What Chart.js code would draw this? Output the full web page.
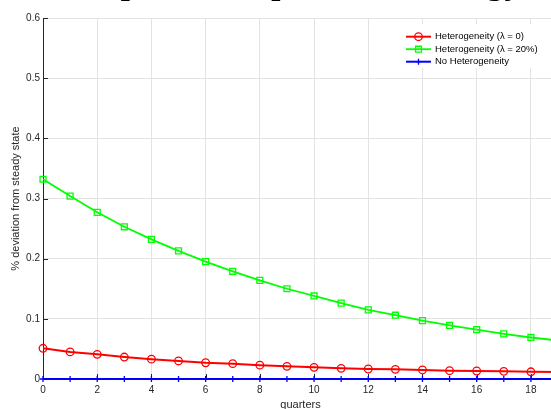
<!DOCTYPE html>
<html>
<head>
<meta charset="utf-8">
<title>Impulse response</title>
<script src="https://cdn.jsdelivr.net/npm/chart.js@4.4.1/dist/chart.umd.min.js"></script>
<style>
  html, body { margin: 0; width: 551px; height: 409px; overflow: hidden; background: #fff; }
  /* the figure is cropped: title above the top edge, right end past the window */
  #wrap { position: absolute; left: 0; top: -45px; width: 601px; height: 465px; }
</style>
</head>
<body>
<div id="wrap"><canvas id="irf"></canvas></div>
<script>
// one value per quarter
const quarters = [0, 1, 2, 3, 4, 5, 6, 7, 8, 9, 10, 11, 12, 13, 14, 15, 16, 17, 18, 19];
const hetZero = [0.051, 0.045, 0.041, 0.0365, 0.033, 0.030, 0.027, 0.0255, 0.023, 0.021,
                 0.0194, 0.0177, 0.0166, 0.016, 0.015, 0.0138, 0.0133, 0.0127, 0.012, 0.0115];
const hetTwenty = [0.332, 0.304, 0.277, 0.253, 0.232, 0.213, 0.195, 0.179, 0.164, 0.150,
                   0.138, 0.126, 0.115, 0.106, 0.097, 0.089, 0.082, 0.075, 0.069, 0.064];
const noHet = [0, 0, 0, 0, 0, 0, 0, 0, 0, 0, 0, 0, 0, 0, 0, 0, 0, 0, 0, 0];
const seriesLabels = ['Heterogeneity (λ = 0)', 'Heterogeneity (λ = 20%)', 'No Heterogeneity'];
const yTicks = [0, 0.1, 0.2, 0.3, 0.4, 0.5, 0.6];

const AXIS = '#262626';
const GRID = '#e3e3e3';
const SANS = '"Liberation Sans", Arial, Helvetica, sans-serif';

const pts = (ys) => quarters.map((q, i) => ({ x: q, y: ys[i] }));

function marker(ctx, style, x, y, r) {
  ctx.beginPath();
  if (style === 'circle') {
    ctx.arc(x, y, r, 0, Math.PI * 2);
  } else if (style === 'rect') {
    const s = r * Math.SQRT1_2;
    ctx.rect(x - s, y - s, 2 * s, 2 * s);
  } else {
    ctx.moveTo(x - r, y); ctx.lineTo(x + r, y);
    ctx.moveTo(x, y - r); ctx.lineTo(x, y + r);
  }
  ctx.stroke();
}

// MATLAB-style ticks pointing into the plot
const innerTicks = {
  id: 'innerTicks',
  beforeDatasetsDraw(chart) {
    const { ctx, chartArea: a, scales: { x, y } } = chart;
    ctx.save();
    ctx.strokeStyle = AXIS;
    ctx.lineWidth = 1;
    ctx.beginPath();
    x.ticks.forEach((t) => {
      const px = Math.round(x.getPixelForValue(t.value)) + 0.5;
      ctx.moveTo(px, a.bottom); ctx.lineTo(px, a.bottom - 5);
    });
    y.ticks.forEach((t) => {
      const py = Math.round(y.getPixelForValue(t.value)) + 0.5;
      ctx.moveTo(a.left, py); ctx.lineTo(a.left + 5, py);
    });
    ctx.stroke();
    ctx.restore();
  },
};

// legend with line + marker samples, white box, no frame
const lineLegend = {
  id: 'lineLegend',
  afterDraw(chart) {
    const { ctx, chartArea: a } = chart;
    const x0 = a.right - 152, x1 = a.right - 127, tx = a.right - 123;
    ctx.save();
    ctx.fillStyle = '#fff';
    ctx.fillRect(a.right - 160, a.top + 6, 150, 44);
    ctx.font = '9.5px ' + SANS;
    ctx.textBaseline = 'middle';
    chart.data.datasets.forEach((ds, i) => {
      const yy = a.top + 18.7 + i * 12.5;
      ctx.strokeStyle = ds.borderColor;
      ctx.lineWidth = ds.borderWidth;
      ctx.beginPath(); ctx.moveTo(x0, yy); ctx.lineTo(x1, yy); ctx.stroke();
      ctx.lineWidth = ds.pointBorderWidth;
      marker(ctx, ds.pointStyle, (x0 + x1) / 2, yy, ds.pointRadius);
      ctx.fillStyle = '#000';
      ctx.fillText(ds.label, tx, yy);
    });
    ctx.restore();
  },
};

const lineSet = (label, ys, color, style, r, w) => ({
  label, data: pts(ys),
  borderColor: color, borderWidth: w,
  pointStyle: style, pointRadius: r, pointHoverRadius: r,
  pointBorderColor: color, pointBackgroundColor: 'rgba(0,0,0,0)', pointBorderWidth: 1.3,
  tension: 0, clip: false,
});

new Chart(document.getElementById('irf'), {
  type: 'line',
  data: {
    datasets: [
      lineSet(seriesLabels[0], hetZero, '#ff0000', 'circle', 3.8, 2),
      lineSet(seriesLabels[1], hetTwenty, '#00ff00', 'rect', 4.2, 1.8),
      lineSet(seriesLabels[2], noHet, '#0000ff', 'cross', 3, 2),
    ],
  },
  options: {
    responsive: true, maintainAspectRatio: false, animation: false,
    devicePixelRatio: 1,
    layout: { padding: 0 },
    plugins: {
      legend: { display: false },
      tooltip: { enabled: false },
      title: {
        display: true,
        text: 'Impulse Response to Energy',
        color: '#000',
        font: { family: '"Liberation Serif", "Times New Roman", serif', size: 39, weight: 'normal' },
        padding: { top: 3, bottom: 13.2 },
      },
    },
    scales: {
      x: {
        type: 'linear', min: 0, max: 19,
        afterBuildTicks: (s) => { s.ticks = s.ticks.filter((t) => t.value % 2 === 0); },
        afterFit: (s) => { s.height = 41; },
        ticks: { stepSize: 2, autoSkip: false, maxRotation: 0, padding: 5, color: AXIS, font: { family: SANS, size: 10 } },
        grid: { color: GRID, drawTicks: false },
        border: { display: true, color: AXIS },
        title: { display: true, text: 'quarters', color: AXIS, font: { family: SANS, size: 11 }, padding: { top: 0, bottom: 8.4 } },
      },
      y: {
        type: 'linear', min: 0, max: 0.6,
        afterBuildTicks: (s) => { s.ticks = yTicks.map((v) => ({ value: v })); },
        afterFit: (s) => { s.width = 43; },
        ticks: { padding: 3, color: AXIS, font: { family: SANS, size: 10 }, callback: (v) => String(+v.toFixed(1)) },
        grid: { color: GRID, drawTicks: false },
        border: { display: true, color: AXIS },
        title: { display: true, text: '% deviation from steady state', color: AXIS, font: { family: SANS, size: 11 }, padding: { top: 9.4, bottom: 0 } },
      },
      // empty right gutter so the title centres over the plot, as in the figure
      gutter: {
        type: 'linear', position: 'right', display: true,
        afterFit: (s) => { s.width = 43; },
        ticks: { display: false }, grid: { display: false }, border: { display: false },
      },
    },
  },
  plugins: [innerTicks, lineLegend],
});
</script>
</body>
</html>
